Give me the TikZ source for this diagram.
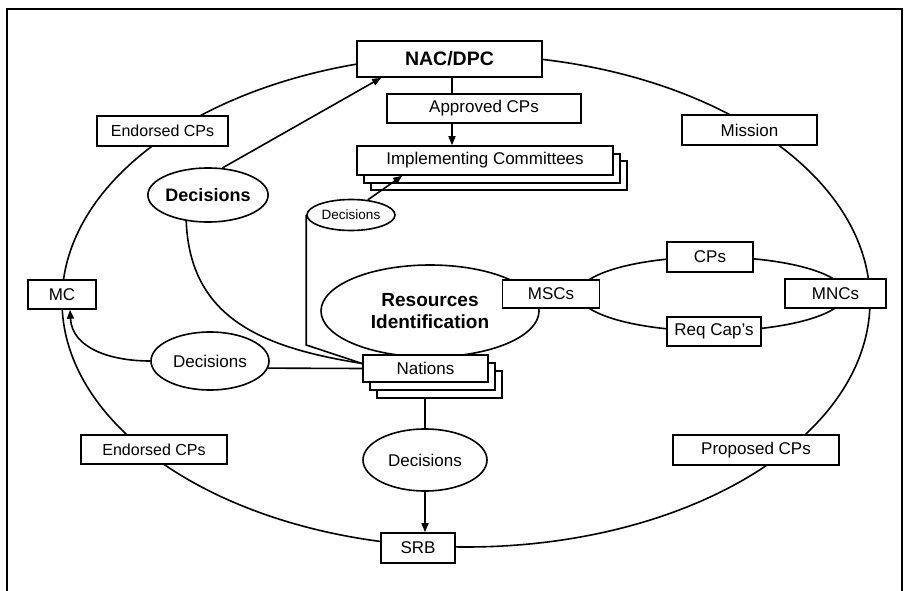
\documentclass[tikz,border=0pt]{standalone}
\usepackage{fontspec}
\setmainfont{Liberation Sans}
\usetikzlibrary{arrows.meta,shapes.geometric}
\begin{document}
\begin{tikzpicture}[x=1pt,y=-1pt,
  line width=1.6pt,
  lbl/.style={draw,fill=white,inner sep=0pt,font=\fontsize{17}{20}\selectfont},
  oval/.style={draw,fill=white,ellipse,inner sep=0pt,font=\fontsize{17}{20}\selectfont},
  tip/.style={-{Triangle[length=9pt,width=7pt]}},
]
\useasboundingbox (0,0) rectangle (905,591);

% outer frame
\draw[line width=2pt] (7,9) rectangle (902,620);

% main cycle and the inner MSC/MNC cycle
\draw (466,301) ellipse [x radius=404pt, y radius=246pt];
\draw (712,294) ellipse [x radius=133pt, y radius=37pt];

% central resource identification
\node[oval,minimum width=218pt,minimum height=92pt,align=center,
      font=\bfseries\fontsize{19}{22}\selectfont] (res) at (430,311)
      {Resources\\Identification};

% boxes on the main cycle
\node[lbl,minimum width=185pt,minimum height=36pt,
      font=\bfseries\fontsize{19.5}{22}\selectfont] (nac) at (449.5,59) {NAC/DPC};
\node[lbl,minimum width=131pt,minimum height=30pt,font=\fontsize{16}{19}\selectfont]
      (endt) at (162.5,131) {Endorsed CPs};
\node[lbl,minimum width=135pt,minimum height=30pt] (mission) at (749.5,130) {Mission};
\node[lbl,minimum width=68pt,minimum height=29pt] (mc) at (62,294.5) {MC};
\node[lbl,minimum width=101pt,minimum height=29pt] (mnc) at (835.5,293.5) {MNCs};
\node[lbl,minimum width=146pt,minimum height=29pt,font=\fontsize{16}{19}\selectfont]
      (endb) at (154,449.5) {Endorsed CPs};
\node[lbl,minimum width=166pt,minimum height=30pt] (prop) at (756,450) {Proposed CPs};
\node[lbl,minimum width=74pt,minimum height=30pt] (srb) at (418,548) {SRB};

% boxes on the inner cycle
\node[lbl,minimum width=97pt,minimum height=28pt] (msc) at (551,294) {MSCs};
\node[lbl,minimum width=86pt,minimum height=30pt] (cps) at (710,257) {CPs};
\node[lbl,minimum width=94pt,minimum height=29pt] (req) at (714,331.5) {Req Cap's};

% approved CPs and the stacked implementing committees
\node[lbl,minimum width=194pt,minimum height=29pt] (appr) at (484,108.5) {Approved CPs};
\node[lbl,minimum width=256pt,minimum height=29pt] (impl3) at (499,175.5) {};
\node[lbl,minimum width=256pt,minimum height=29pt] (impl2) at (492,168.5) {};
\node[lbl,minimum width=256pt,minimum height=29pt] (impl) at (485,160.5) {Implementing Committees};

% stacked nations
\node[lbl,minimum width=125pt,minimum height=27pt] (nat3) at (439.5,384.5) {};
\node[lbl,minimum width=125pt,minimum height=27pt] (nat2) at (432.5,376.5) {};
\node[lbl,minimum width=125pt,minimum height=27pt] (nations) at (425.5,368.5) {Nations};

% decision ovals
\node[oval,minimum width=112pt,minimum height=54pt,
      font=\bfseries\fontsize{18}{21}\selectfont] (dtop) at (208,195) {Decisions};
\node[oval,minimum width=118pt,minimum height=58pt] (dmid) at (210,361) {Decisions};
\node[oval,minimum width=88pt,minimum height=31pt,font=\fontsize{13.5}{16}\selectfont]
      (dsmall) at (351,215) {Decisions};
\node[oval,minimum width=124pt,minimum height=62pt] (dbot) at (425,460) {Decisions};

% helper points
\coordinate (vx) at (452,0);
\coordinate (bend) at (306,345);
\coordinate (nin) at ([yshift=5pt]nations.west);

% connectors
\draw (nac.south -| vx) -- (appr.north -| vx);
\draw[tip] (appr.south -| vx) -- (impl.north -| vx);
\draw[tip] (dtop.62) -- ([xshift=25pt]nac.south west);
\draw[tip] (dsmall.42) -- ([xshift=46pt]impl.south west);
\draw (dtop.-130) .. controls (190,320) and (265,348) .. (nin);
\draw (dsmall.west) -- (dsmall.west |- bend) -- (nin);
\draw (dmid.-7) -- (nations.west);
\draw[tip] (dmid.west) .. controls (110,361) and (72,348) .. ([xshift=8pt]mc.south);
\draw (nat3.south -| dbot.north) -- (dbot.north);
\draw[tip] (dbot.south) -- (dbot.south |- srb.north);
\end{tikzpicture}
\end{document}
